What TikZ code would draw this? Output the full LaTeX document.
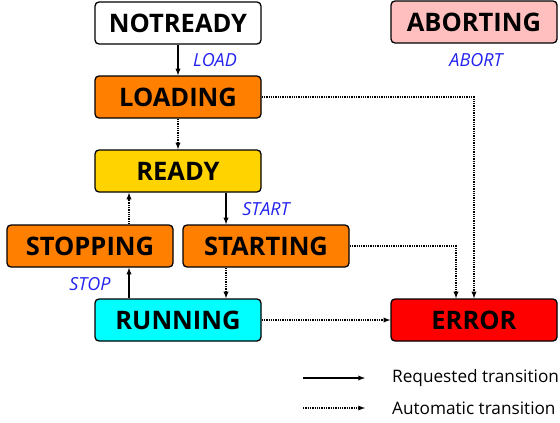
\documentclass[tikz,border=0pt]{standalone}
\usepackage{fontspec}
\setmainfont{Open Sans}
\usepackage{xcolor}
\usepackage{tikz}
\usetikzlibrary{arrows,calc,positioning}

\definecolor{stOrange}{HTML}{FF8000}
\definecolor{stYellow}{HTML}{FFD300}
\definecolor{stCyan}{HTML}{00FFFF}
\definecolor{stRed}{HTML}{FF0000}
\definecolor{stPink}{HTML}{FFBFBF}
\definecolor{evBlue}{HTML}{2323F0}

\begin{document}
\begin{tikzpicture}[x=1pt, y=-1pt]
	\tikzstyle{state} = [draw = black, line width = 1.3pt, rounded corners = 4pt, minimum width = 166pt, minimum height = 42pt, inner sep = 0pt, font = \fontsize{25.5}{27}\selectfont\bfseries]
	\tikzstyle{event} = [text = evBlue, font = \fontsize{18}{20}\selectfont\itshape]
	\tikzstyle{req} = [line width = 1.3pt, -latex]
	\tikzstyle{auto} = [line width = 1.3pt, densely dotted, -latex]
	\useasboundingbox (0,0) rectangle (560,423);
\node[state, fill = white] (nr) at (178, 23) {NOTREADY};
\node[state, fill = stPink] (ab) at (474, 22) {ABORTING};
\node[state, fill = stOrange] (ld) at (178, 97) {LOADING};
\node[state, fill = stYellow] (rd) at (178, 171) {READY};
\node[state, fill = stOrange] (sp) at (90, 246) {STOPPING};
\node[state, fill = stOrange] (sa) at (266, 246) {STARTING};
\node[state, fill = stCyan] (rn) at (178, 320) {RUNNING};
\node[state, fill = stRed] (er) at (474, 320) {ERROR};
	\path[draw, req] (nr) -- (ld);
	\path[draw, auto] (ld) -- (rd);
	\path[draw, req] ([xshift = 48pt]rd.south) -- ([xshift = -40pt]sa.north);
	\path[draw, auto] ([xshift = -40pt]sa.south) -- ([xshift = 48pt]rn.north);
	\path[draw, req] ([xshift = -49pt]rn.north) -- ([xshift = 39pt]sp.north |- sp.south);
	\path[draw, auto] ([xshift = 39pt]sp.north) -- ([xshift = -49pt]rd.south);
	\path[draw, auto] (ld.east) -| (er.north);
	\path[draw, auto] (sa.east) -| ([xshift = -18pt]er.north);
	\path[draw, auto] (rn) -- (er);
\node[event] (load) at (215, 60) {LOAD};
\node[event] (abort) at (476, 60) {ABORT};
\node[event] (start) at (266, 209) {START};
\node[event] (stop) at (90, 284) {STOP};
% legend
\coordinate (reqa) at (303, 378);
\coordinate (reqb) at (365, 378);
\coordinate (auta) at (303, 408);
\coordinate (autb) at (365, 408);
	\path[draw, req] (reqa) -- (reqb);
	\path[draw, auto] (auta) -- (autb);
\node[anchor = west, inner sep = 0pt, font = \fontsize{17.2}{19}\selectfont] (reqtxt) at (392, 378) {Requested transition};
\node[anchor = west, inner sep = 0pt, font = \fontsize{17.2}{19}\selectfont] (auttxt) at (392, 408) {Automatic transition};
\end{tikzpicture}
\end{document}
